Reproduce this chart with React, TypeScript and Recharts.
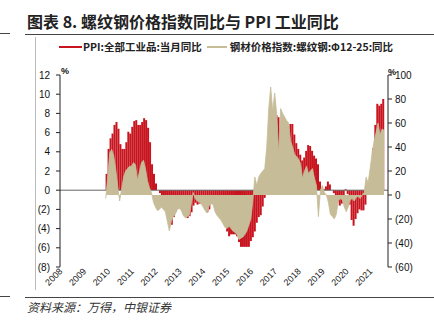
import React from "react";
import { ComposedChart, Bar, Area, XAxis, YAxis, ReferenceLine } from "recharts";

// axis runs Jan 2008 - Oct 2021, one category per month
const YEARS = [2008, 2009, 2010, 2011, 2012, 2013, 2014, 2015, 2016, 2017, 2018, 2019, 2020, 2021];
const LAST_MONTH_2021 = 10;
const SERIES_START = "2009-12";

// PPI: 全部工业品: 当月同比 (%), Dec 2009 - Aug 2021
const PPI = [
  1.7,
  4.3, 5.4, 5.9, 6.8, 7.1, 6.4, 4.8, 4.3, 4.3, 5.0, 6.1, 5.9,
  6.6, 7.2, 7.3, 6.8, 6.8, 7.1, 7.5, 7.3, 6.5, 5.0, 2.7, 1.7,
  0.7, 0.0, -0.3, -0.7, -1.4, -2.1, -2.9, -3.5, -3.6, -2.8, -2.2, -1.9,
  -1.6, -1.6, -1.9, -2.6, -2.9, -2.7, -2.3, -1.6, -1.3, -1.5, -1.4, -1.4,
  -1.6, -2.0, -2.3, -2.0, -1.4, -1.1, -0.9, -1.2, -1.8, -2.2, -2.7, -3.3,
  -4.3, -4.8, -4.6, -4.6, -4.6, -4.8, -5.4, -5.9, -5.9, -5.9, -5.9, -5.9,
  -5.3, -4.9, -4.3, -3.4, -2.8, -2.6, -1.7, -0.8, 0.1, 1.2, 3.3, 5.5,
  6.9, 7.8, 7.6, 6.4, 5.5, 5.5, 5.5, 6.3, 6.9, 6.9, 5.8, 4.9,
  4.3, 3.7, 3.1, 3.4, 4.1, 4.7, 4.6, 4.1, 3.6, 3.3, 2.7, 0.9,
  0.1, 0.1, 0.4, 0.9, 0.6, 0.0, -0.3, -0.8, -1.2, -1.6, -1.4, -0.5,
  0.1, -0.4, -1.5, -3.1, -3.7, -3.0, -2.4, -2.0, -2.1, -2.1, -1.5, -0.4,
  0.3, 1.7, 4.4, 6.8, 9.0, 8.8, 9.0, 9.5,
];

// 钢材价格指数: 螺纹钢: Φ12-25: 同比 (%), Dec 2009 - Aug 2021
const REBAR = [
  -3,
  15, 35, 38, 33, 22, 8, -5, 5, 15, 20, 22, 24,
  24, 27, 25, 12, 20, 27, 29, 22, 12, 6, 2, -6,
  -10, -13, -12, -10, -12, -14, -22, -30, -22, -18, -16, -12,
  -11, -13, -17, -19, -18, -17, -8, 2, -3, -5, -6, -7,
  -10, -13, -15, -9, -7, -8, -14, -17, -19, -21, -24, -27,
  -28, -26, -28, -30, -31, -33, -37, -36, -35, -33, -30, -25,
  -20, -5, 15, 8, 15, 18, 20, 22, 40, 72, 90, 70,
  85, 68, 35, 72, 68, 65, 62, 60, 45, 40, 34, 32,
  30, 26, 14, 20, 24, 18, 20, 22, 14, 8, -18, 4,
  8, 2, 0, -6, -16, -18, -20, -16, -5, -3, -4, -10,
  -14, -10, -4, -3, -5, -2, -1, -3, 0, 2, 15, 10,
  22, 35, 45, 52, 60, 50, 55, 54,
];

const LEFT_TICKS = [-8, -6, -4, -2, 0, 2, 4, 6, 8, 10, 12];
const RIGHT_TICKS = [-60, -40, -20, 0, 20, 40, 60, 80, 100];

const MONTHS: string[] = [];
YEARS.forEach((y) => {
  const last = y === 2021 ? LAST_MONTH_2021 : 12;
  for (let m = 1; m <= last; m++) MONTHS.push(`${y}-${String(m).padStart(2, "0")}`);
});
const startIdx = MONTHS.indexOf(SERIES_START);

const data = MONTHS.map((m, i) => {
  const k = i - startIdx;
  return {
    month: m,
    ppi: k >= 0 && k < PPI.length ? PPI[k] : null,
    rebar: k >= 0 && k < REBAR.length ? REBAR[k] : null,
  };
});

const RED = "#c8141e";
const BEIGE = "#c6bd98";
const NUM_FONT = "'Liberation Sans', Arial, sans-serif";
const CJK_FONT = "'Noto Sans CJK SC', sans-serif";
const MARGIN = { top: 75, right: 0, bottom: 26, left: 0 };

const paren = (v: number) => (v < 0 ? `(${-v})` : `${v}`);

function YearTick(props: any) {
  const { x, y, payload } = props;
  const v = String(payload.value);
  if (!v.endsWith("-01")) return <g />;
  const tx = x + 3;
  const ty = y + 5;
  return (
    <text
      x={tx}
      y={ty}
      transform={`rotate(-45 ${tx} ${ty})`}
      textAnchor="end"
      fontSize={9}
      fontFamily={NUM_FONT}
      fill="#222"
    >
      {v.slice(0, 4)}
    </text>
  );
}

// the axes, drawn either visible (top chart) or as invisible spacers (bottom chart)
function axes(visible: boolean) {
  const line = visible ? { stroke: "#222" } : false;
  return [
    <XAxis
      key="x"
      dataKey="month"
      interval={0}
      tick={visible ? <YearTick /> : false}
      tickLine={false}
      axisLine={false}
      height={30}
      tickSize={0}
      tickMargin={0}
    />,
    <YAxis
      key="l"
      yAxisId="left"
      domain={[-8, 12]}
      ticks={LEFT_TICKS}
      tickFormatter={paren}
      width={60}
      tickSize={4}
      tickMargin={6}
      axisLine={line}
      tickLine={line}
      tick={visible ? { fontSize: 10, fill: "#111", fontFamily: NUM_FONT } : false}
      allowDataOverflow
    />,
    <YAxis
      key="r"
      yAxisId="right"
      orientation="right"
      domain={[-60, 100]}
      ticks={RIGHT_TICKS}
      tickFormatter={paren}
      width={46}
      tickSize={4}
      tickMargin={3}
      axisLine={line}
      tickLine={line}
      tick={visible ? { fontSize: 10, fill: "#111", fontFamily: NUM_FONT, textAnchor: "start" } : false}
      allowDataOverflow
    />,
  ];
}

function LegendRow() {
  const item = { display: "flex", alignItems: "center" } as const;
  return (
    <div
      style={{
        position: "absolute",
        left: 59,
        top: 39,
        display: "flex",
        gap: 5,
        fontFamily: CJK_FONT,
        fontSize: 10.5,
        fontWeight: 700,
        color: "#222",
        whiteSpace: "nowrap",
      }}
    >
      <div style={item}>
        <span style={{ width: 23, height: 2, background: RED, marginRight: 1 }} />
        PPI:全部工业品:当月同比
      </div>
      <div style={item}>
        <span style={{ width: 20, height: 2, background: BEIGE, marginRight: 3 }} />
        钢材价格指数:螺纹钢:Φ12-25:同比
      </div>
    </div>
  );
}

export default function App() {
  return (
    <div style={{ position: "absolute", left: 0, top: 0, width: 434, height: 323, background: "#fff" }}>
      <div
        style={{
          position: "absolute",
          left: 27,
          top: 9,
          fontFamily: CJK_FONT,
          fontWeight: 700,
          fontSize: 16,
          color: "#222",
          whiteSpace: "nowrap",
        }}
      >
        图表 8. 螺纹钢价格指数同比与 PPI 工业同比
      </div>
      <div style={{ position: "absolute", left: 0, top: 33, width: 10, height: 1, background: "#444" }} />
      <div style={{ position: "absolute", left: 25, top: 34, width: 409, height: 1, background: "#444" }} />
      <div style={{ position: "absolute", left: 35, top: 37, width: 1, height: 253, background: "#bbb" }} />

      {/* bottom layer: PPI columns */}
      <div style={{ position: "absolute", left: 0, top: 0 }}>
        <ComposedChart width={434} height={323} data={data} margin={MARGIN} barCategoryGap="8%">
          {axes(false)}
          <ReferenceLine yAxisId="left" y={0} stroke="#666" strokeWidth={1} />
          <Bar yAxisId="left" dataKey="ppi" fill={RED} isAnimationActive={false} />
        </ComposedChart>
      </div>

      {/* top layer: rebar index area, drawn over the columns, plus the visible axes */}
      <div style={{ position: "absolute", left: 0, top: 0 }}>
        <ComposedChart width={434} height={323} data={data} margin={MARGIN}>
          {axes(true)}
          <Area
            yAxisId="right"
            type="linear"
            dataKey="rebar"
            stroke={BEIGE}
            strokeWidth={0.8}
            fill={BEIGE}
            fillOpacity={1}
            dot={false}
            activeDot={false}
            isAnimationActive={false}
          />
        </ComposedChart>
      </div>

      <LegendRow />
      <div style={{ position: "absolute", left: 61, top: 66, fontFamily: NUM_FONT, fontSize: 9, fontWeight: 700, color: "#111" }}>
        %
      </div>
      <div style={{ position: "absolute", left: 388, top: 67, fontFamily: NUM_FONT, fontSize: 9, fontWeight: 700, color: "#111" }}>
        %
      </div>

      <div style={{ position: "absolute", left: 0, top: 296, width: 10, height: 1, background: "#444" }} />
      <div style={{ position: "absolute", left: 25, top: 297, width: 409, height: 1, background: "#444" }} />
      <div
        style={{
          position: "absolute",
          left: 27,
          top: 298,
          fontFamily: CJK_FONT,
          fontStyle: "italic",
          fontSize: 12,
          color: "#333",
          whiteSpace: "nowrap",
        }}
      >
        资料来源：万得，中银证券
      </div>
    </div>
  );
}
